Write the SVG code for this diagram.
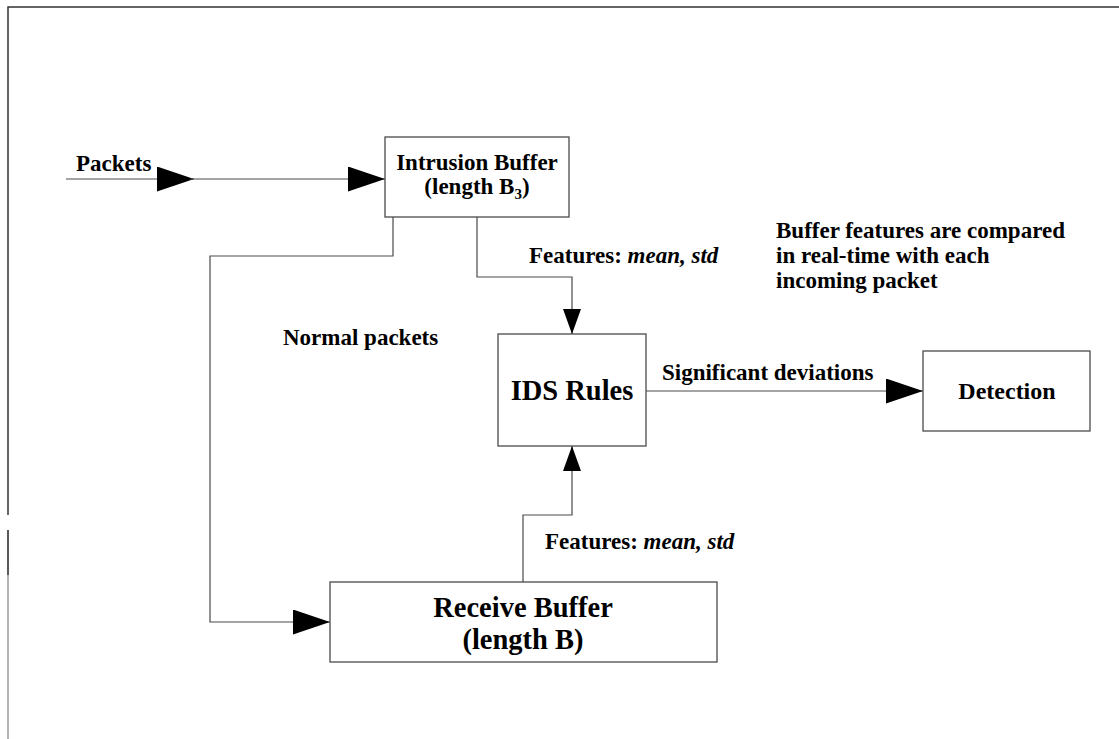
<svg xmlns="http://www.w3.org/2000/svg" width="1119" height="739" viewBox="0 0 1119 739">
  <style>
    .box { fill: #ffffff; stroke: #4a4a4a; stroke-width: 1.3; }
    .wire { fill: none; stroke: #4a4a4a; stroke-width: 1.2; }
    text { font-family: "Liberation Serif", "Times New Roman", serif; font-weight: bold; fill: #000000; }
    .lbl { font-size: 23px; }
    .big { font-size: 28.5px; }
    .it { font-style: italic; }
  </style>
  <defs>
    <!-- large head for horizontal flows -->
    <marker id="arrow-h" viewBox="0 0 37 25" refX="37" refY="12.5" markerWidth="37" markerHeight="25" markerUnits="userSpaceOnUse" orient="auto">
      <path d="M0,0 L37,12.5 L0,25 Z" fill="#000000"/>
    </marker>
    <!-- smaller head for vertical feature flows -->
    <marker id="arrow-v" viewBox="0 0 25 18" refX="25" refY="9" markerWidth="25" markerHeight="18" markerUnits="userSpaceOnUse" orient="auto">
      <path d="M0,0 L25,9 L0,18 Z" fill="#000000"/>
    </marker>
  </defs>
  <rect width="1119" height="739" fill="#ffffff"/>

  <!-- page frame -->
  <path d="M8,515 V7 H1119" fill="none" stroke="#333333" stroke-width="1.5"/>
  <path d="M8,530 V575" fill="none" stroke="#222222" stroke-width="1.5"/>
  <path d="M8,575 V739" fill="none" stroke="#999999" stroke-width="1.5"/>

  <!-- connectors -->
  <g id="connectors">
    <path class="wire" d="M66,179 H194" marker-end="url(#arrow-h)"/>
    <path class="wire" d="M190,179 H385" marker-end="url(#arrow-h)"/>
    <path class="wire" d="M477,217 V277 H572 V334" marker-end="url(#arrow-v)"/>
    <path class="wire" d="M393,217 V256 H210 V622 H330" marker-end="url(#arrow-h)"/>
    <path class="wire" d="M646,391 H923" marker-end="url(#arrow-h)"/>
    <path class="wire" d="M523,582 V515 H572 V446" marker-end="url(#arrow-v)"/>
  </g>

  <!-- labels -->
  <text class="lbl" x="76" y="171">Packets</text>
  <text class="lbl" x="529" y="263">Features: <tspan class="it">mean, std</tspan></text>
  <text class="lbl" x="545" y="549">Features: <tspan class="it">mean, std</tspan></text>
  <text class="lbl" x="283" y="345">Normal packets</text>
  <text class="lbl" x="662" y="380">Significant deviations</text>
  <text class="lbl" x="776" y="238">Buffer features are compared</text>
  <text class="lbl" x="776" y="263">in real-time with each</text>
  <text class="lbl" x="776" y="288">incoming packet</text>

  <!-- nodes -->
  <g id="intrusion-buffer">
    <rect class="box" x="385" y="137" width="184" height="80"/>
    <text class="lbl" x="477" y="170" text-anchor="middle">Intrusion Buffer</text>
    <text class="lbl" x="477" y="194" text-anchor="middle">(length B<tspan font-size="15" dy="5">3</tspan><tspan dy="-5">)</tspan></text>
  </g>

  <g id="ids-rules">
    <rect class="box" x="498" y="334" width="148" height="112"/>
    <text class="big" x="572" y="400" text-anchor="middle" font-size="29">IDS Rules</text>
  </g>

  <g id="detection">
    <rect class="box" x="923" y="351" width="167" height="80"/>
    <text x="1007" y="399" text-anchor="middle" font-size="24">Detection</text>
  </g>

  <g id="receive-buffer">
    <rect class="box" x="330" y="582" width="387" height="80"/>
    <text class="big" x="523" y="617" text-anchor="middle">Receive Buffer</text>
    <text class="big" x="523" y="649" text-anchor="middle">(length B)</text>
  </g>
</svg>
